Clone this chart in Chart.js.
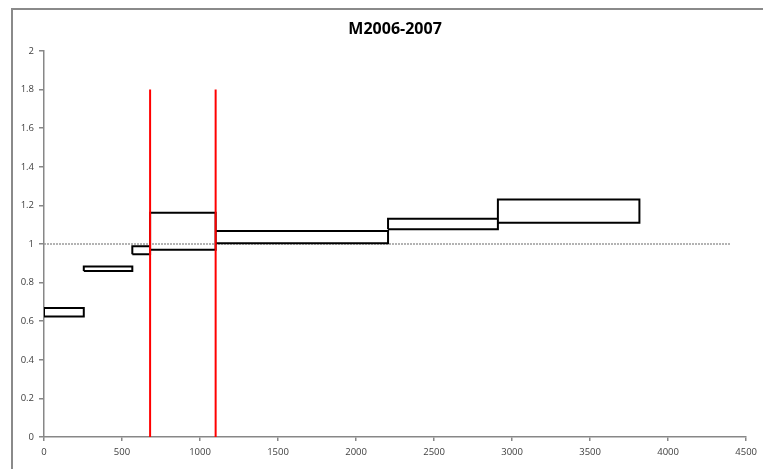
<!DOCTYPE html>
<html>
<head>
<meta charset="utf-8">
<script src="https://cdn.jsdelivr.net/npm/chart.js@4"></script>
<style>
  html, body { margin: 0; padding: 0; background: #fff; }
  #wrap { width: 763px; height: 469px; }
</style>
</head>
<body>
<div id="wrap"><canvas id="chart"></canvas></div>
<script>
// Box limits: each interval spans xStart..xEnd on the x axis and yLow..yHigh on the y axis
const xStart = [0, 255, 566, 680, 1100, 2205, 2909];
const xEnd   = [255, 566, 680, 1100, 2205, 2909, 3816];
const yLow   = [0.625, 0.86, 0.947, 0.970, 1.004, 1.076, 1.11];
const yHigh  = [0.668, 0.884, 0.988, 1.162, 1.068, 1.131, 1.23];

// Vertical markers and the reference level
const markerX = [680, 1100];
const markerTop = 1.8;
const refLevel = 1;
const refEnd = 4400;

const xTicks = [0, 500, 1000, 1500, 2000, 2500, 3000, 3500, 4000, 4500];
const yTicks = [0, 0.2, 0.4, 0.6, 0.8, 1, 1.2, 1.4, 1.6, 1.8, 2];

// Turn each box into a closed outline, boxes separated by null gaps
const boxPoints = [];
xStart.forEach((x0, i) => {
    const x1 = xEnd[i];
    boxPoints.push({x: x0, y: yLow[i]}, {x: x1, y: yLow[i]}, {x: x1, y: yHigh[i]},
                   {x: x0, y: yHigh[i]}, {x: x0, y: yLow[i]}, {x: x0, y: null});
});

const markerPoints = [];
markerX.forEach(x => {
    markerPoints.push({x: x, y: 0}, {x: x, y: markerTop}, {x: x, y: null});
});

const refPoints = [{x: 0, y: refLevel}, {x: refEnd, y: refLevel}];

// Grey frame around the whole plot, runs off the right and bottom edges
const framePlugin = {
    id: 'frame',
    beforeDraw(chart) {
        const ctx = chart.ctx;
        ctx.save();
        ctx.strokeStyle = '#8a8a8a';
        ctx.lineWidth = 2;
        ctx.strokeRect(12, 9, 800, 500);
        ctx.restore();
    }
};

Chart.defaults.font.family = "'Open Sans', sans-serif";
Chart.defaults.color = '#404040';

const axisGrey = '#878787';

const ctx = document.getElementById('chart').getContext('2d');
const chart = new Chart(ctx, {
    type: 'scatter',
    data: {
        datasets: [
            {
                label: 'markers',
                data: markerPoints,
                showLine: true,
                spanGaps: false,
                borderColor: '#ff0000',
                borderWidth: 2,
                pointRadius: 0
            },
            {
                label: 'boxes',
                data: boxPoints,
                showLine: true,
                spanGaps: false,
                borderColor: '#000000',
                borderWidth: 2,
                pointRadius: 0
            },
            {
                label: 'ref',
                data: refPoints,
                showLine: true,
                borderColor: '#9a9a9a',
                borderWidth: 1.5,
                borderDash: [2, 1],
                pointRadius: 0
            }
        ]
    },
    options: {
        responsive: true,
        maintainAspectRatio: false,
        animation: false,
        devicePixelRatio: 1,
        layout: {
            padding: { top: 20, left: 0, right: 16.3, bottom: 0 }
        },
        scales: {
            x: {
                type: 'linear',
                min: 0,
                max: 4500,
                afterBuildTicks: scale => { scale.ticks = xTicks.map(v => ({value: v})); },
                afterFit: scale => { scale.height = 32; },
                grid: {
                    drawOnChartArea: false,
                    drawTicks: true,
                    tickLength: 4,
                    color: axisGrey,
                    lineWidth: 1.5
                },
                border: { color: axisGrey, width: 1.5 },
                ticks: {
                    padding: 6,
                    maxRotation: 0,
                    font: { size: 9.5 },
                    callback: v => String(v)
                }
            },
            y: {
                type: 'linear',
                min: 0,
                max: 2,
                afterBuildTicks: scale => { scale.ticks = yTicks.map(v => ({value: v})); },
                afterFit: scale => { scale.width = 44; },
                grid: {
                    drawOnChartArea: false,
                    drawTicks: true,
                    tickLength: 5,
                    color: axisGrey,
                    lineWidth: 1.5
                },
                border: { color: axisGrey, width: 1.5 },
                ticks: {
                    padding: 5,
                    font: { size: 9.5 },
                    callback: v => String(v)
                }
            }
        },
        plugins: {
            legend: { display: false },
            tooltip: { enabled: false },
            title: {
                display: true,
                text: 'M2006-2007',
                fullSize: false,
                color: '#000000',
                font: { size: 16, weight: 'bold', lineHeight: 1.2 },
                padding: { top: 0, bottom: 11.8 }
            }
        }
    },
    plugins: [framePlugin]
});
</script>
</body>
</html>
